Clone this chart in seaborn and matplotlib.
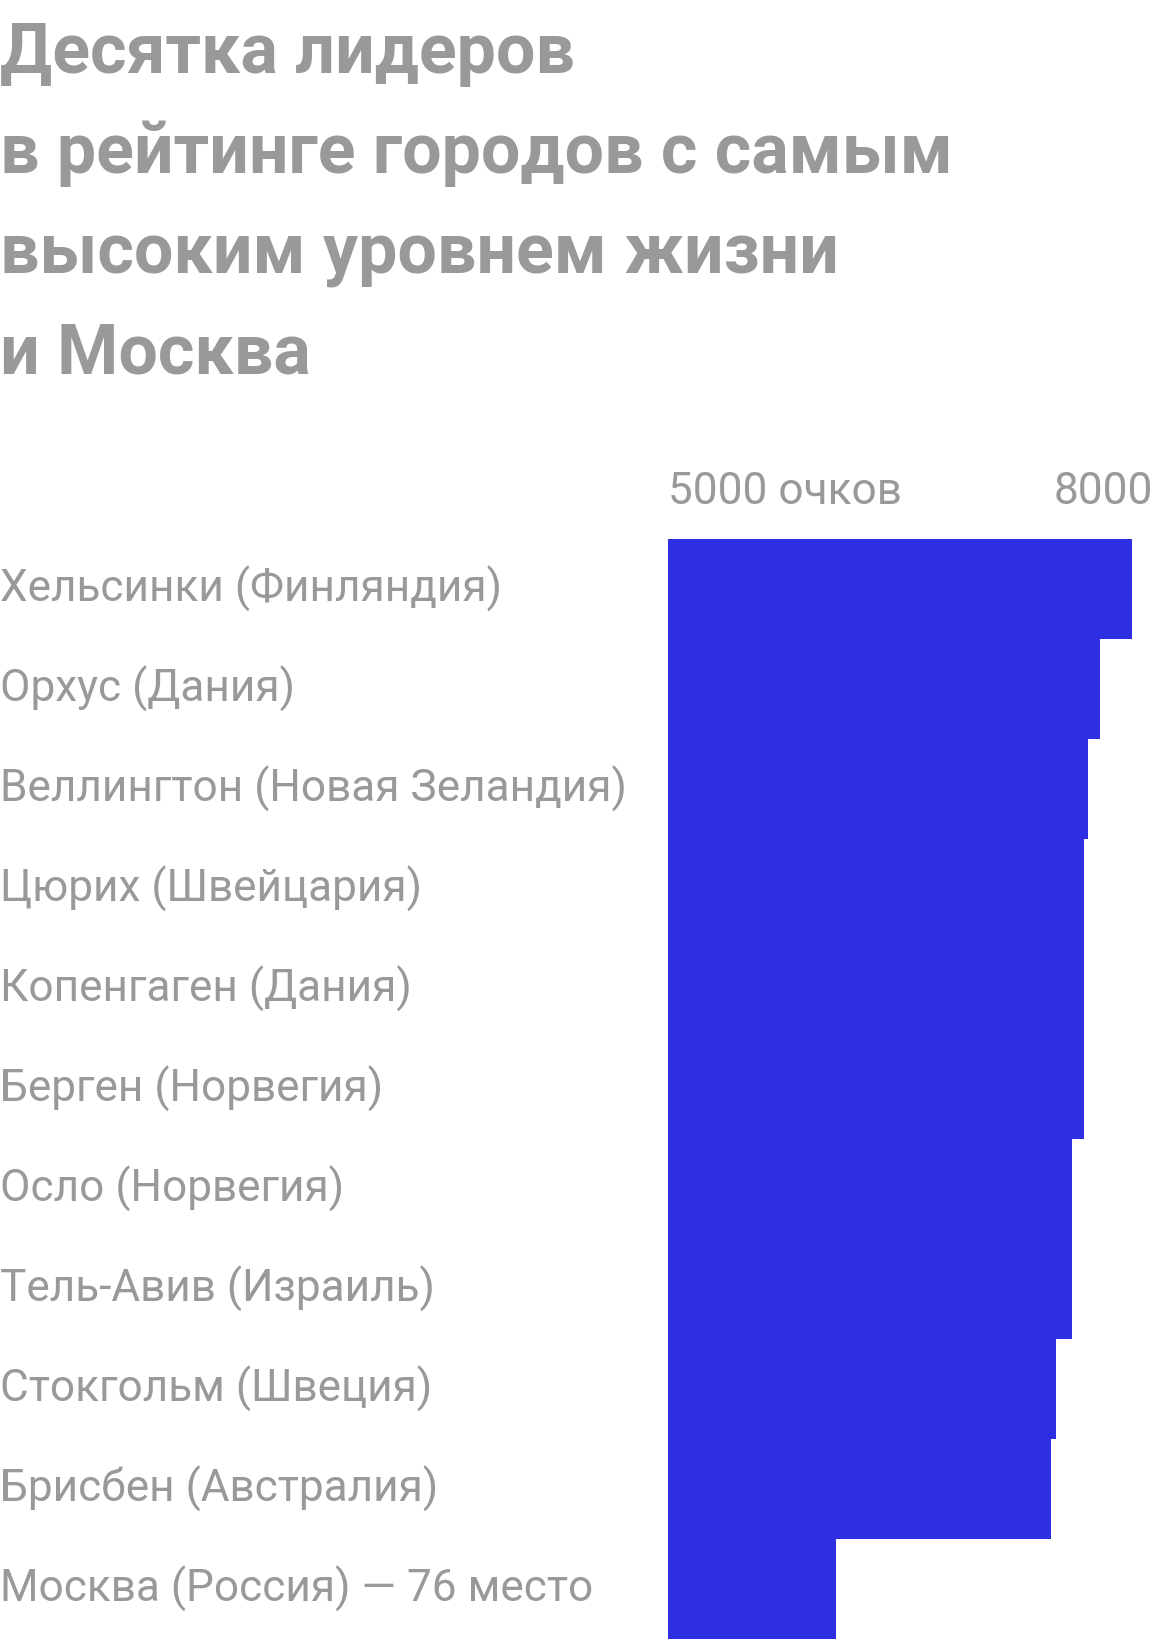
import matplotlib
matplotlib.use("Agg")
import matplotlib.pyplot as plt
import matplotlib.transforms as mtransforms
import pandas as pd
import seaborn as sns

# data
cities = [
    "Хельсинки (Финляндия)",
    "Орхус (Дания)",
    "Веллингтон (Новая Зеландия)",
    "Цюрих (Швейцария)",
    "Копенгаген (Дания)",
    "Берген (Норвегия)",
    "Осло (Норвегия)",
    "Тель-Авив (Израиль)",
    "Стокгольм (Швеция)",
    "Брисбен (Австралия)",
    "Москва (Россия) — 76 место",
]
scores = [8606, 8357, 8264, 8233, 8233, 8233, 8140, 8140, 8015, 7977, 6306]
tick_values = [5000, 8000]
tick_labels = ["5000 очков", "8000"]
title_lines = [
    "Десятка лидеров",
    "в рейтинге городов с самым",
    "высоким уровнем жизни",
    "и Москва",
]

sns.set_style("white")
plt.rcParams["font.family"] = ["Roboto", "DejaVu Sans"]

GREY = "#999999"
BLUE = "#2e2ee2"

df = pd.DataFrame({"city": cities, "score": scores})

fig = plt.figure(figsize=(11.6, 16.4), dpi=100)
ax = fig.add_axes([668 / 1160, 0, 1 - 668 / 1160, 1100 / 1640])

sns.barplot(data=df, x="score", y="city", orient="h", color=BLUE,
            width=1.0, saturation=1, linewidth=0, ax=ax)

ax.set_xlim(5000, 8824)
ax.set_ylim(len(cities) - 0.5, -0.5)
ax.axis("off")

# city names at the very left of the figure
trans = mtransforms.blended_transform_factory(fig.transFigure, ax.transData)
for i, name in enumerate(df["city"]):
    ax.text(0.0, i + 0.12, name, transform=trans, ha="left", va="baseline",
            fontsize=31.8, color=GREY, clip_on=False)

# scale labels above the bars
for v, lab in zip(tick_values, tick_labels):
    ax.text(v, -0.86, lab, ha="left", va="baseline", fontsize=31.8,
            color=GREY, clip_on=False)

# title
for k, line in enumerate(title_lines):
    fig.text(0.0, 1 - (73 + 100 * k) / 1640, line, ha="left", va="baseline",
             fontsize=50.3, fontweight="bold", color=GREY)

fig.savefig("out.png", dpi=100)
